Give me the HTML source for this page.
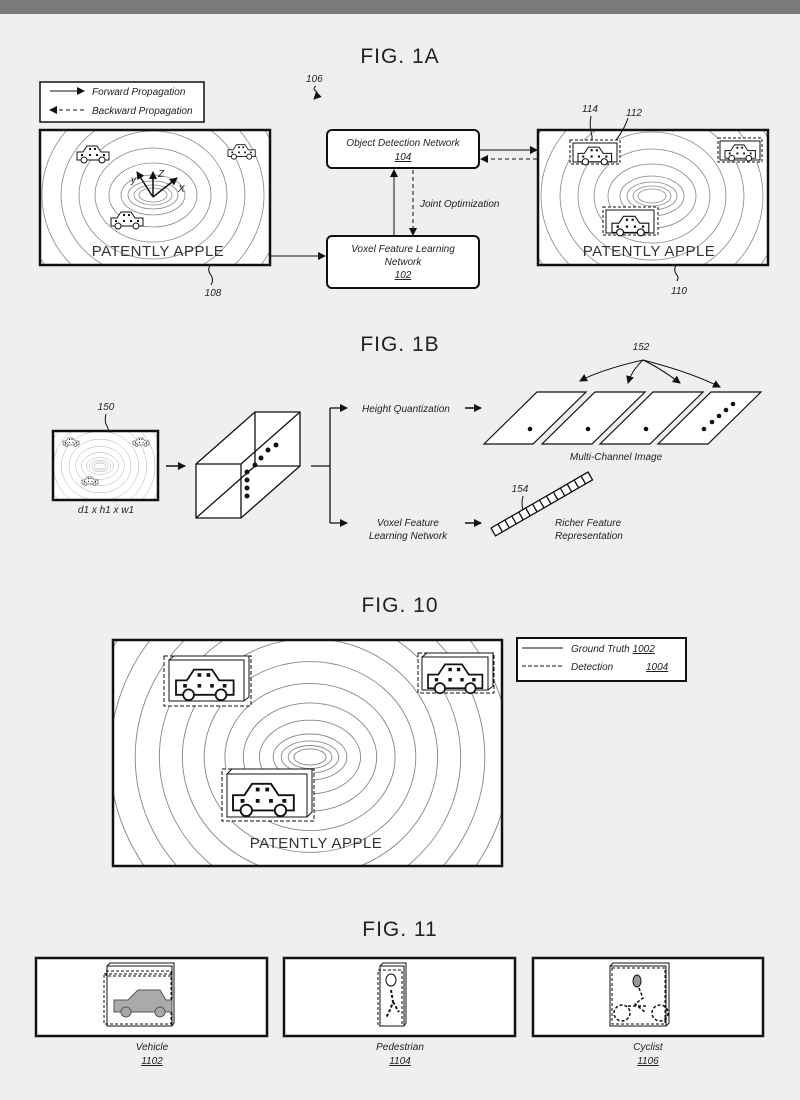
<!DOCTYPE html>
<html><head><meta charset="utf-8"><style>
html,body{margin:0;padding:0;background:#efefef;}
svg{display:block;}
text{font-family:"Liberation Sans",sans-serif;fill:#222;}
.t{font-size:21px;letter-spacing:1px;}
.i{font-style:italic;font-size:10px;}
.pa{font-size:15px;fill:#333;letter-spacing:.5px;}
</style></head><body>
<svg width="800" height="1100" viewBox="0 0 800 1100" xmlns="http://www.w3.org/2000/svg">
<defs>
<marker id="ah" markerWidth="8" markerHeight="8" refX="7" refY="4" orient="auto" markerUnits="userSpaceOnUse"><path d="M0,0 L8,4 L0,8 z" fill="#111"/></marker>
<g id="car">
<path d="M0,8 L0,16 L32,16 L32,8 L24,8 L20,2 L10,2 L6,8 Z" fill="#fff" stroke="#111" stroke-width="1"/>
<circle cx="7" cy="16" r="3" fill="#fff" stroke="#111"/><circle cx="25" cy="16" r="3" fill="#fff" stroke="#111"/>
<rect x="12" y="4" width="2" height="2" fill="#111"/><rect x="17" y="4" width="2" height="2" fill="#111"/><rect x="4" y="10" width="2" height="2" fill="#111"/><rect x="12" y="10" width="2" height="2" fill="#111"/><rect x="19" y="10" width="2" height="2" fill="#111"/><rect x="26" y="10" width="2" height="2" fill="#111"/>
</g>
<g id="rings" fill="none" stroke="#888" stroke-width="0.8">
<ellipse rx="14" ry="7"/><ellipse rx="19" ry="10"/><ellipse rx="25" ry="14"/><ellipse rx="32" ry="20"/><ellipse rx="44" ry="32"/><ellipse rx="58" ry="47"/><ellipse rx="74" ry="64"/><ellipse rx="92" ry="83"/><ellipse rx="111" ry="103"/><ellipse rx="131" ry="124"/><ellipse rx="152" ry="146"/><ellipse rx="174" ry="169"/><ellipse rx="197" ry="193"/>
</g>
<clipPath id="c1"><rect x="40" y="130" width="230" height="135"/></clipPath>
<clipPath id="c2"><rect x="538" y="130" width="230" height="135"/></clipPath>
<clipPath id="c3"><rect x="53" y="431" width="105" height="69"/></clipPath>
<clipPath id="c4"><rect x="113" y="640" width="389" height="226"/></clipPath>
</defs>
<rect x="0" y="0" width="800" height="14" fill="#7a7a7a"/>

<!-- FIG 1A -->
<text class="t" x="400" y="63" text-anchor="middle">FIG. 1A</text>
<rect x="40" y="82" width="164" height="40" fill="#fff" stroke="#111" stroke-width="1.5"/>
<line x1="50" y1="91" x2="84" y2="91" stroke="#111" marker-end="url(#ah)"/>
<text class="i" x="92" y="95">Forward Propagation</text>
<line x1="84" y1="110" x2="50" y2="110" stroke="#111" stroke-dasharray="4,3" marker-end="url(#ah)"/>
<text class="i" x="92" y="114">Backward Propagation</text>
<text class="i" x="306" y="82">106</text>
<path d="M316,86 q-4,3 0,5 q3,3 -2,8" fill="none" stroke="#111" marker-end="url(#ah)"/>

<rect x="40" y="130" width="230" height="135" fill="#fff"/>
<g clip-path="url(#c1)"><use href="#rings" transform="translate(153,195)"/></g>
<rect x="40" y="130" width="230" height="135" fill="none" stroke="#111" stroke-width="2.5"/>
<use href="#car" transform="translate(77,144)"/><use href="#car" transform="translate(228,143) scale(.85)"/><use href="#car" transform="translate(111,210)"/>
<g stroke="#111" stroke-width="1.5" fill="none">
<line x1="153" y1="197" x2="153" y2="172" marker-end="url(#ah)"/><line x1="153" y1="197" x2="177" y2="178" marker-end="url(#ah)"/><line x1="153" y1="197" x2="137" y2="172" marker-end="url(#ah)"/></g>
<text class="i" x="131" y="183" font-size="12">y</text><text class="i" x="158" y="177" font-size="12">Z</text><text class="i" x="178" y="192" font-size="12">X</text>
<text class="pa" x="158" y="256" text-anchor="middle">PATENTLY APPLE</text>
<path d="M210,265 q-3,6 1,10 q3,5 0,10" fill="none" stroke="#111"/>
<text class="i" x="213" y="296" font-size="11" text-anchor="middle">108</text>

<line x1="271" y1="256" x2="325" y2="256" stroke="#111" marker-end="url(#ah)"/>
<rect x="327" y="130" width="152" height="38" rx="5" fill="#fff" stroke="#111" stroke-width="2"/>
<text class="i" x="403" y="146" text-anchor="middle">Object Detection Network</text>
<text class="i" x="403" y="160" text-anchor="middle" text-decoration="underline">104</text>
<rect x="327" y="236" width="152" height="52" rx="5" fill="#fff" stroke="#111" stroke-width="2"/>
<text class="i" x="403" y="252" text-anchor="middle">Voxel Feature Learning</text>
<text class="i" x="403" y="265" text-anchor="middle">Network</text>
<text class="i" x="403" y="278" text-anchor="middle" text-decoration="underline">102</text>
<line x1="394" y1="236" x2="394" y2="170" stroke="#111" marker-end="url(#ah)"/>
<line x1="413" y1="170" x2="413" y2="235" stroke="#111" stroke-dasharray="4,3" marker-end="url(#ah)"/>
<text class="i" x="420" y="207">Joint Optimization</text>
<line x1="480" y1="150" x2="537" y2="150" stroke="#111" marker-end="url(#ah)"/>
<line x1="537" y1="159" x2="481" y2="159" stroke="#111" stroke-dasharray="4,3" marker-end="url(#ah)"/>

<rect x="538" y="130" width="230" height="135" fill="#fff"/>
<g clip-path="url(#c2)"><use href="#rings" transform="translate(652,196)"/></g>
<rect x="538" y="130" width="230" height="135" fill="none" stroke="#111" stroke-width="2.5"/>
<g stroke="#111" fill="#fff">
<rect x="570" y="140" width="50" height="24" stroke-dasharray="3,2"/><rect x="573" y="143" width="44" height="19"/>
<rect x="718" y="138" width="44" height="24" stroke-dasharray="3,2"/><rect x="720" y="141" width="40" height="19"/>
<rect x="603" y="207" width="55" height="28" stroke-dasharray="3,2"/><rect x="606" y="210" width="48" height="23"/></g>
<use href="#car" transform="translate(578,145) scale(1.05)"/><use href="#car" transform="translate(725,143) scale(.95)"/><use href="#car" transform="translate(612,214) scale(1.15)"/>
<text class="pa" x="649" y="256" text-anchor="middle">PATENTLY APPLE</text>
<text class="i" x="590" y="112" font-size="11" text-anchor="middle">114</text>
<text class="i" x="634" y="116" font-size="11" text-anchor="middle">112</text>
<path d="M591,116 q-2,10 1,20 l0,4" fill="none" stroke="#111"/>
<path d="M628,118 q-4,12 -12,22" fill="none" stroke="#111"/>
<path d="M676,265 q-3,6 1,10 q2,3 0,6" fill="none" stroke="#111"/>
<text class="i" x="679" y="294" font-size="11" text-anchor="middle">110</text>

<!-- FIG 1B -->
<text class="t" x="400" y="351" text-anchor="middle">FIG. 1B</text>
<text class="i" x="106" y="410" font-size="11" text-anchor="middle">150</text>
<path d="M106,414 q-2,8 1,12 l2,5" fill="none" stroke="#111"/>
<rect x="53" y="431" width="105" height="69" fill="#fff"/>
<g clip-path="url(#c3)"><use href="#rings" transform="translate(100,466) scale(.42)"/></g>
<rect x="53" y="431" width="105" height="69" fill="none" stroke="#111" stroke-width="2.5"/>
<use href="#car" transform="translate(63,437) scale(.5)"/><use href="#car" transform="translate(133,437) scale(.5)"/><use href="#car" transform="translate(82,476) scale(.5)"/>
<text class="i" x="106" y="513" text-anchor="middle">d1 x h1 x w1</text>
<line x1="166" y1="466" x2="185" y2="466" stroke="#111" stroke-width="1.5" marker-end="url(#ah)"/>
<g stroke="#111" stroke-width="1.3" fill="#fff">
<path d="M196,464 L255,412 L300,412 L300,466 L241,518 L196,518 Z"/>
<path d="M196,464 L241,464 L300,412 M241,464 L241,518" fill="none"/>
<path d="M255,412 L255,466 L196,518 M255,466 L300,466" fill="none"/></g>
<g fill="#111"><circle cx="276" cy="445" r="2.5"/><circle cx="268" cy="450" r="2.5"/><circle cx="261" cy="458" r="2.5"/><circle cx="255" cy="465" r="2.5"/><circle cx="247" cy="472" r="2.5"/><circle cx="247" cy="480" r="2.5"/><circle cx="247" cy="488" r="2.5"/><circle cx="247" cy="496" r="2.5"/></g>
<path d="M311,466 L330,466 M330,408 L330,523" stroke="#111" stroke-width="1.3" fill="none"/>
<line x1="330" y1="408" x2="347" y2="408" stroke="#111" stroke-width="1.3" marker-end="url(#ah)"/>
<line x1="330" y1="523" x2="347" y2="523" stroke="#111" stroke-width="1.3" marker-end="url(#ah)"/>
<text class="i" x="362" y="412">Height Quantization</text>
<line x1="465" y1="408" x2="481" y2="408" stroke="#111" stroke-width="1.5" marker-end="url(#ah)"/>
<text class="i" x="408" y="526" text-anchor="middle">Voxel Feature</text>
<text class="i" x="408" y="539" text-anchor="middle">Learning Network</text>
<line x1="465" y1="523" x2="481" y2="523" stroke="#111" stroke-width="1.5" marker-end="url(#ah)"/>
<g stroke="#111" stroke-width="1.2" fill="#fff">
<path d="M484,444 L537,392 L586,392 L533,444 Z"/><path d="M542,444 L595,392 L645,392 L592,444 Z"/>
<path d="M600,444 L653,392 L703,392 L650,444 Z"/><path d="M658,444 L711,392 L761,392 L708,444 Z"/></g>
<g fill="#111"><circle cx="530" cy="429" r="2.3"/><circle cx="588" cy="429" r="2.3"/><circle cx="646" cy="429" r="2.3"/>
<circle cx="704" cy="429" r="2.3"/><circle cx="712" cy="422" r="2.3"/><circle cx="719" cy="416" r="2.3"/><circle cx="726" cy="410" r="2.3"/><circle cx="733" cy="404" r="2.3"/></g>
<text class="i" x="641" y="350" font-size="11" text-anchor="middle">152</text>
<g stroke="#111" fill="none"><path d="M643,360 Q600,370 580,381" marker-end="url(#ah)"/><path d="M643,360 Q632,370 628,383" marker-end="url(#ah)"/><path d="M643,360 Q660,368 680,383" marker-end="url(#ah)"/><path d="M643,360 Q690,372 720,387" marker-end="url(#ah)"/></g>
<text class="i" x="616" y="460" text-anchor="middle">Multi-Channel Image</text>
<g transform="translate(495,535) rotate(-30)" stroke="#111" stroke-width="1.3" fill="#fff">
<rect x="0" y="-8" width="112" height="9"/>
<path d="M8,-8v9M16,-8v9M24,-8v9M32,-8v9M40,-8v9M48,-8v9M56,-8v9M64,-8v9M72,-8v9M80,-8v9M88,-8v9M96,-8v9M104,-8v9" fill="none"/></g>
<text class="i" x="520" y="492" font-size="11" text-anchor="middle">154</text>
<path d="M523,496 q-2,8 0,14" fill="none" stroke="#111"/>
<text class="i" x="555" y="526">Richer Feature</text>
<text class="i" x="555" y="539">Representation</text>

<!-- FIG 10 -->
<text class="t" x="400" y="612" text-anchor="middle">FIG. 10</text>
<rect x="113" y="640" width="389" height="226" fill="#fff"/>
<g clip-path="url(#c4)"><use href="#rings" transform="translate(310,757) scale(1.15,1.15)"/></g>
<rect x="113" y="640" width="389" height="226" fill="none" stroke="#111" stroke-width="2.5"/>
<g stroke="#111" fill="#fff">
<rect x="164" y="656" width="87" height="50" stroke-dasharray="4,2"/><rect x="169" y="660" width="75" height="41"/><path d="M169,660 l5,-4 h75 v41 l-5,4" fill="none"/>
<rect x="418" y="653" width="76" height="40" stroke-dasharray="4,2"/><rect x="422" y="657" width="66" height="33"/><path d="M422,657 l5,-4 h66 v33 l-5,4" fill="none"/>
<rect x="222" y="769" width="92" height="52" stroke-dasharray="4,2"/><rect x="227" y="774" width="80" height="43"/><path d="M227,774 l5,-5 h80 v43 l-5,5" fill="none"/></g>
<use href="#car" transform="translate(176,666) scale(1.8)"/><use href="#car" transform="translate(428,661) scale(1.7)"/><use href="#car" transform="translate(233,780) scale(1.9)"/>
<text class="pa" x="316" y="848" text-anchor="middle">PATENTLY APPLE</text>
<rect x="517" y="638" width="169" height="43" fill="#fff" stroke="#111" stroke-width="2"/>
<line x1="522" y1="648" x2="563" y2="648" stroke="#111"/>
<line x1="522" y1="666" x2="563" y2="666" stroke="#111" stroke-dasharray="4,2"/>
<text class="i" x="571" y="652" font-size="12">Ground Truth <tspan text-decoration="underline">1002</tspan></text>
<text class="i" x="571" y="670" font-size="12">Detection</text>
<text class="i" x="646" y="670" font-size="12" text-decoration="underline">1004</text>

<!-- FIG 11 -->
<text class="t" x="400" y="936" text-anchor="middle">FIG. 11</text>
<g stroke="#111" fill="#fff">
<rect x="36" y="958" width="231" height="78" stroke-width="2.5"/>
<rect x="284" y="958" width="231" height="78" stroke-width="2.5"/>
<rect x="533" y="958" width="230" height="78" stroke-width="2.5"/>
<rect x="107" y="966" width="65" height="60"/><path d="M107,966 l3,-3 h64 v60 l-2,3" fill="none"/>
<rect x="104" y="974" width="67" height="50" stroke-dasharray="3,2" fill="none"/>
<rect x="106" y="971" width="65" height="5" stroke-dasharray="3,2" fill="none"/>
<rect x="380" y="966" width="24" height="60"/><path d="M380,966 l3,-3 h23 v60 l-2,3" fill="none"/>
<rect x="378" y="970" width="24" height="56" stroke-dasharray="3,2" fill="none"/>
<rect x="610" y="966" width="56" height="60"/><path d="M610,966 l3,-3 h56 v60 l-3,3" fill="none"/>
<rect x="612" y="968" width="53" height="56" stroke-dasharray="3,2" fill="none"/></g>
<path d="M114,1000 h14 l10,-10 h22 l6,10 h6 v12 h-58 z" fill="#aaa" stroke="#555"/>
<circle cx="126" cy="1012" r="5" fill="#aaa" stroke="#555"/><circle cx="160" cy="1012" r="5" fill="#aaa" stroke="#555"/>
<ellipse cx="391" cy="980" rx="5" ry="6" fill="none" stroke="#111"/>
<g stroke="#111" stroke-width="2" fill="none" stroke-dasharray="3,2"><path d="M391,990 l2,12 l-3,8 l-4,8 M393,1002 l6,10"/></g>
<ellipse cx="637" cy="981" rx="4" ry="6" fill="#999" stroke="#111"/>
<g stroke="#111" stroke-width="1.5" fill="none" stroke-dasharray="3,2"><circle cx="622" cy="1013" r="8"/><circle cx="660" cy="1013" r="8"/><path d="M639,988 l4,10 l-8,6 l10,8 M628,1006 h20"/></g>
<text class="i" x="152" y="1050" font-size="12" text-anchor="middle">Vehicle</text>
<text class="i" x="152" y="1064" font-size="12" text-anchor="middle" text-decoration="underline">1102</text>
<text class="i" x="400" y="1050" font-size="12" text-anchor="middle">Pedestrian</text>
<text class="i" x="400" y="1064" font-size="12" text-anchor="middle" text-decoration="underline">1104</text>
<text class="i" x="648" y="1050" font-size="12" text-anchor="middle">Cyclist</text>
<text class="i" x="648" y="1064" font-size="12" text-anchor="middle" text-decoration="underline">1106</text>
</svg>
</body></html>
